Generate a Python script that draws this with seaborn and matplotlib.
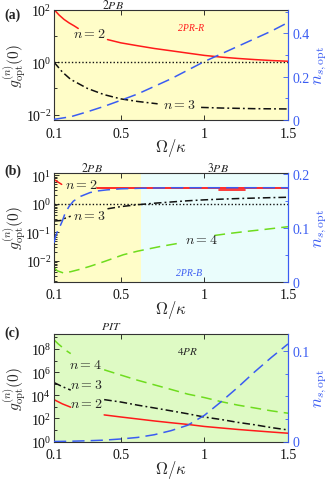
import numpy as np
import pandas as pd
import matplotlib
matplotlib.use('Agg')
import matplotlib.pyplot as plt
import seaborn as sns
from matplotlib.ticker import FixedLocator, NullFormatter, LogLocator, MultipleLocator

sns.set_style('ticks')
plt.rcParams['font.family'] = ['Liberation Serif', 'DejaVu Serif']
plt.rcParams['mathtext.fontset'] = 'stix'
plt.rcParams['axes.unicode_minus'] = False

# ---------------- data ----------------
x_ticks = [0.1, 0.5, 1, 1.5]
x_ticklabels = ['0.1', '0.5', '1', '1.5']

# panel (a)
a_red1_x = [0.10, 0.13, 0.16, 0.19, 0.22, 0.245]
a_red1_y = [100, 62, 42, 31, 24, 19]
a_red2_x = [0.42, 0.5, 0.6, 0.7, 0.8, 0.9, 1.0, 1.1, 1.2, 1.3, 1.4, 1.5]
a_red2_y = [7.2, 5.4, 4.2, 3.3, 2.7, 2.2, 1.8, 1.55, 1.38, 1.25, 1.15, 1.08]
a_blk1_x = [0.10, 0.15, 0.2, 0.3, 0.4, 0.5, 0.6, 0.72]
a_blk1_y = [1.0, 0.42, 0.22, 0.1, 0.058, 0.04, 0.032, 0.026]
a_blk2_x = [0.98, 1.1, 1.2, 1.3, 1.4, 1.5]
a_blk2_y = [0.019, 0.018, 0.0175, 0.017, 0.0168, 0.0166]
a_blue_x = [0.1, 0.2, 0.3, 0.4, 0.5, 0.6, 0.7, 0.8, 0.9, 1.0, 1.1, 1.2, 1.3, 1.4, 1.5]
a_blue_y = [0.003, 0.015, 0.038, 0.063, 0.091, 0.12, 0.155, 0.19, 0.23, 0.27,
            0.305, 0.34, 0.375, 0.41, 0.45]

# panel (b)
b_red1_x = [0.10, 0.12, 0.146]
b_red1_y = [7.1, 6.0, 4.8]
b_red2_x = [0.356, 0.6, 0.9, 1.2, 1.5]
b_red2_y = [3.45, 3.45, 3.45, 3.45, 3.45]
b_red3_x = [1.09, 1.24]
b_red3_y = [3.0, 3.0]
b_blue_x = [0.1, 0.11, 0.12, 0.136, 0.15, 0.166, 0.19, 0.216, 0.26, 0.316, 0.36,
            0.416, 0.5, 0.616, 0.8, 1.0, 1.2, 1.5]
b_blue_y = [0.072, 0.085, 0.093, 0.103, 0.113, 0.127, 0.14, 0.150, 0.159, 0.166,
            0.169, 0.171, 0.173, 0.174, 0.175, 0.175, 0.175, 0.175]
b_blk1_x = [0.10, 0.14, 0.17, 0.2]
b_blk1_y = [0.25, 0.26, 0.32, 0.37]
b_blk2_x = [0.42, 0.5, 0.6, 0.7, 0.8, 0.9, 1.0, 1.1, 1.2, 1.3, 1.4, 1.5]
b_blk2_y = [0.67, 0.8, 0.93, 1.05, 1.16, 1.28, 1.38, 1.46, 1.53, 1.59, 1.65, 1.7]
b_grn1_x = [0.1, 0.12, 0.156, 0.2, 0.25, 0.316, 0.4, 0.515, 0.6, 0.735, 0.86]
b_grn1_y = [0.0058, 0.0045, 0.0038, 0.0042, 0.005, 0.0065, 0.0095, 0.0165, 0.022,
            0.032, 0.043]
b_grn2_x = [1.06, 1.15, 1.25, 1.35, 1.5]
b_grn2_y = [0.078, 0.092, 0.108, 0.125, 0.158]

# panel (c)
c_grn1_x = [0.1, 0.125, 0.15, 0.175, 0.2]
c_grn1_y = [6.3e8, 2.8e8, 1.4e8, 7e7, 4e7]
c_grn2_x = [0.4, 0.5, 0.6, 0.7, 0.8, 0.9, 1.0, 1.1, 1.2, 1.3, 1.4, 1.5]
c_grn2_y = [1.6e6, 5.6e5, 2e5, 8e4, 3.2e4, 1.26e4, 6.3e3, 2.8e3, 1.4e3, 800, 450, 280]
c_blk1_x = [0.1, 0.15, 0.2]
c_blk1_y = [1.26e5, 5.6e4, 2.8e4]
c_blk2_x = [0.4, 0.5, 0.6, 0.7, 0.8, 0.9, 1.0, 1.1, 1.2, 1.3, 1.4, 1.5]
c_blk2_y = [4.2e3, 2.6e3, 1.4e3, 800, 450, 250, 130, 80, 45, 28, 16, 10]
c_red1_x = [0.1, 0.15, 0.2]
c_red1_y = [4.2e3, 1.8e3, 930]
c_red2_x = [0.4, 0.5, 0.6, 0.7, 0.8, 0.9, 1.0, 1.1, 1.2, 1.3, 1.4, 1.5]
c_red2_y = [200, 132, 89, 60, 42, 30, 20, 14.8, 11, 8.5, 6.6, 5.2]
c_blue_x = [0.1, 0.2, 0.3, 0.4, 0.5, 0.6, 0.7, 0.8, 0.9, 1.0, 1.1, 1.2, 1.3, 1.4, 1.5]
c_blue_y = [0.0, 0.0003, 0.0008, 0.0015, 0.0028, 0.0045, 0.0075, 0.012, 0.018,
            0.029, 0.044, 0.06, 0.077, 0.093, 0.108]

# ---------------- style ----------------
RED = '#FF1A1A'
BLUE = '#3A5CF2'
GREEN = '#6EDC1E'
BLACK = '#111111'
YEL = '#FFFDC8'
CYAN = '#EAFDFC'
LGRN = '#DEFAC4'
SPINE = '#333333'

DASH_B = (0, (8, 4))
DASH_G = (0, (7, 4))
DASHDOT = (0, (5, 2, 1.2, 2))


def draw(ax, xs, ys, color, ls, lw=1.1):
    df = pd.DataFrame({'x': xs, 'y': ys})
    sns.lineplot(data=df, x='x', y='y', ax=ax, color=color, linestyle=ls, lw=lw,
                 estimator=None, sort=False, legend=False)


fig = plt.figure(figsize=(3.32, 4.81), dpi=100)
W, H = 332.0, 481.0
L, R = 54 / W, 288 / W
boxes = [(10.5, 121), (174, 282.5), (335, 442.5)]

axs, ax2s = [], []
for top, bot in boxes:
    ax = fig.add_axes([L, 1 - bot / H, R - L, (bot - top) / H])
    ax.set_yscale('log')
    ax.set_xlim(0.1, 1.5)
    ax2 = ax.twinx()
    axs.append(ax)
    ax2s.append(ax2)

# ---- panel (a)
ax, ax2 = axs[0], ax2s[0]
ax.set_ylim(10 ** -2.2, 100)
ax.axvspan(0.1, 1.5, color=YEL, zorder=0, lw=0)
ax.axhline(1, color=BLACK, ls=(0, (1, 1.5)), lw=1.0)
draw(ax, a_red1_x, a_red1_y, RED, '-')
draw(ax, a_red2_x, a_red2_y, RED, '-')
draw(ax, a_blk1_x, a_blk1_y, BLACK, DASHDOT)
draw(ax, a_blk2_x, a_blk2_y, BLACK, DASHDOT)
draw(ax2, a_blue_x, a_blue_y, BLUE, DASH_B)
ax2.set_ylim(0, 0.51)
ax.yaxis.set_major_locator(FixedLocator([1e-2, 1, 1e2]))
ax.yaxis.set_minor_locator(FixedLocator([1e-1, 1e1]))
ax2.yaxis.set_major_locator(FixedLocator([0, 0.2, 0.4]))
ax2.set_yticklabels(['0', '0.2', '0.4'])
ax2.yaxis.set_minor_locator(MultipleLocator(0.1))
ax.text(0.31, 12, r'$n=2$', fontsize=10, ha='center', va='center', math_fontfamily='cm')
ax.text(0.85, 0.024, r'$n=3$', fontsize=10, ha='center', va='center', math_fontfamily='cm')
ax.text(0.92, 21, '2PR-R', color=RED, fontsize=7, style='italic', ha='center', va='center')
ax.text(0.45, 1.045, r'$2\mathit{PB}$', fontsize=8.5, ha='center', va='center',
        transform=ax.get_xaxis_transform())

# ---- panel (b)
ax, ax2 = axs[1], ax2s[1]
ax.set_ylim(10 ** -2.72, 10 ** 1.08)
ax.axvspan(0.1, 0.62, color=YEL, zorder=0, lw=0)
ax.axvspan(0.62, 1.5, color=CYAN, zorder=0, lw=0)
ax.axhline(1, color=BLACK, ls=(0, (1, 1.5)), lw=1.0)
draw(ax, b_red1_x, b_red1_y, RED, '-')
draw(ax, b_red2_x, b_red2_y, RED, '-', lw=1.3)
draw(ax, b_red3_x, b_red3_y, RED, '-', lw=1.2)
draw(ax, b_blk1_x, b_blk1_y, BLACK, DASHDOT)
draw(ax, b_blk2_x, b_blk2_y, BLACK, DASHDOT)
draw(ax, b_grn1_x, b_grn1_y, GREEN, DASH_G)
draw(ax, b_grn2_x, b_grn2_y, GREEN, DASH_G)
draw(ax2, b_blue_x, b_blue_y, BLUE, DASH_B)
ax2.set_ylim(0, 0.2025)
ax.yaxis.set_major_locator(FixedLocator([1e-2, 1e-1, 1, 1e1]))
ax.yaxis.set_minor_locator(LogLocator(base=10, subs=np.arange(2, 10) * 0.1, numticks=20))
ax2.yaxis.set_major_locator(FixedLocator([0, 0.1, 0.2]))
ax2.set_yticklabels(['0', '0.1', '0.2'])
ax2.yaxis.set_minor_locator(MultipleLocator(0.05))
ax.text(0.26, 4.6, r'$n=2$', fontsize=10, ha='center', va='center', math_fontfamily='cm')
ax.text(0.31, 0.38, r'$n=3$', fontsize=10, ha='center', va='center', math_fontfamily='cm')
ax.text(0.98, 0.058, r'$n=4$', fontsize=10, ha='center', va='center', math_fontfamily='cm')
ax.text(0.91, 0.004, '2PR-B', color=BLUE, fontsize=7, style='italic', ha='center', va='center')
ax.text(0.33, 1.05, r'$2\mathit{PB}$', fontsize=8.5, ha='center', va='center',
        transform=ax.get_xaxis_transform())
ax.text(1.08, 1.05, r'$3\mathit{PB}$', fontsize=8.5, ha='center', va='center',
        transform=ax.get_xaxis_transform())

# ---- panel (c)
ax, ax2 = axs[2], ax2s[2]
ax.set_ylim(1, 10 ** 9.3)
ax.axvspan(0.1, 1.5, color=LGRN, zorder=0, lw=0)
draw(ax, c_grn1_x, c_grn1_y, GREEN, DASH_G)
draw(ax, c_grn2_x, c_grn2_y, GREEN, DASH_G)
draw(ax, c_blk1_x, c_blk1_y, BLACK, DASHDOT)
draw(ax, c_blk2_x, c_blk2_y, BLACK, DASHDOT)
draw(ax, c_red1_x, c_red1_y, RED, '-')
draw(ax, c_red2_x, c_red2_y, RED, '-')
draw(ax2, c_blue_x, c_blue_y, BLUE, DASH_B)
ax2.set_ylim(0, 0.119)
ax.yaxis.set_major_locator(FixedLocator([1, 1e2, 1e4, 1e6, 1e8]))
ax.yaxis.set_minor_locator(FixedLocator([1e1, 1e3, 1e5, 1e7, 1e9]))
ax2.yaxis.set_major_locator(FixedLocator([0, 0.1]))
ax2.set_yticklabels(['0', '0.1'])
ax2.yaxis.set_minor_locator(MultipleLocator(0.025))
ax.text(0.29, 4.4e6, r'$n=4$', fontsize=10, ha='center', va='center', math_fontfamily='cm')
ax.text(0.29, 8e4, r'$n=3$', fontsize=10, ha='center', va='center', math_fontfamily='cm')
ax.text(0.29, 1.9e3, r'$n=2$', fontsize=10, ha='center', va='center', math_fontfamily='cm')
ax.text(0.9, 7.4e7, r'$4\mathit{PR}$', fontsize=8, ha='center', va='center')
ax.text(0.445, 1.075, r'$\mathit{PIT}$', fontsize=8.5, ha='center', va='center',
        transform=ax.get_xaxis_transform())

# ---- common axis formatting
for ax, ax2 in zip(axs, ax2s):
    ax.set_xlim(0.1, 1.5)
    ax.set_xticks(x_ticks)
    ax.set_xticklabels(x_ticklabels)
    ax.xaxis.set_minor_locator(FixedLocator([]))
    ax.yaxis.set_minor_formatter(NullFormatter())
    ax.tick_params(axis='both', which='both', direction='in', labelsize=10,
                   top=True, right=False, colors=BLACK, width=0.6)
    ax.tick_params(axis='x', pad=5)
    ax.tick_params(axis='y', pad=2)
    ax.tick_params(which='major', length=3.5)
    ax.tick_params(which='minor', length=2)
    ax2.tick_params(axis='y', which='both', direction='in', colors=BLUE, labelsize=10,
                    width=0.6, pad=3)
    ax2.tick_params(which='major', length=3.5)
    ax2.tick_params(which='minor', length=2)
    ax2.yaxis.set_minor_formatter(NullFormatter())
    for s in ['left', 'top', 'bottom']:
        ax.spines[s].set_color(SPINE)
        ax.spines[s].set_linewidth(0.8)
        ax2.spines[s].set_visible(False)
    ax.spines['right'].set_color(BLUE)
    ax2.spines['right'].set_color(BLUE)
    ax2.spines['right'].set_linewidth(0.8)
    ax.set_xlabel(r'$\Omega/\kappa$', fontsize=12, math_fontfamily='cm', labelpad=-2.5)
    ax.set_ylabel(r'$g^{(n)}_{\rm opt}(0)$', fontsize=11, math_fontfamily='cm')
    ax.yaxis.set_label_coords(-0.112, 0.5)
    ax2.set_ylabel(r'$n_{s,\rm opt}$', fontsize=12, color=BLUE, math_fontfamily='cm',
                   rotation=90)
    ax2.yaxis.set_label_coords(1.105, 0.5)
    ax.set_zorder(0)
    ax2.set_zorder(1)

for lab, ypix in [('(a)', 15), ('(b)', 171), ('(c)', 333)]:
    fig.text(0.012, 1 - ypix / H, lab, fontsize=10, fontweight='bold', va='center',
             family='Liberation Serif')

fig.savefig('out.png', dpi=100)
